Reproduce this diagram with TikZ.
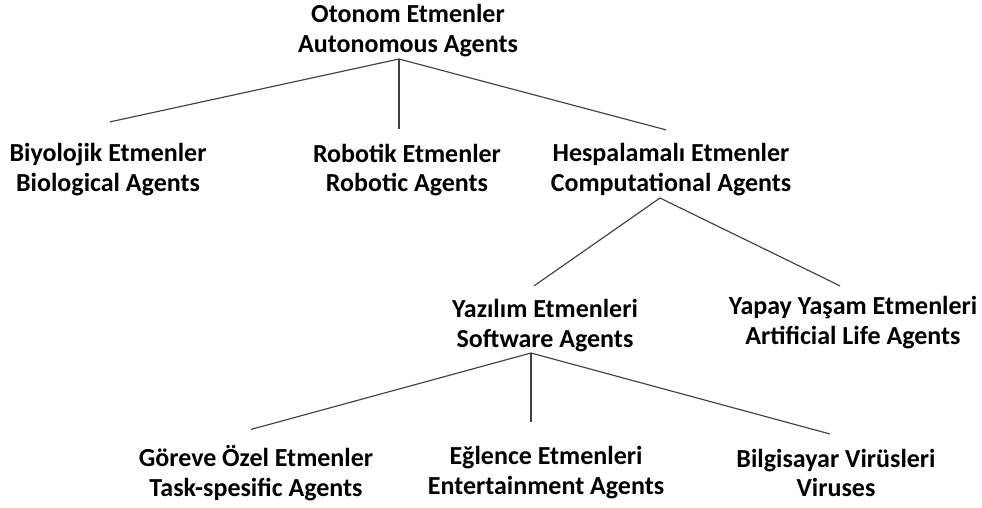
\documentclass[tikz,border=0pt]{standalone}
\usepackage{fontspec}
\setmainfont{Carlito}
\usepackage{tikz}
\tikzset{
  agent/.style = {font=\bfseries\fontsize{14.8pt}{17pt}\selectfont, align=center, inner sep=2pt},
  branch/.style = {draw=black!75, line width=0.65pt}
}

\begin{document}
\begin{tikzpicture}[x=0.02cm, y=-0.02cm]
            \useasboundingbox (0,0) rectangle (982,507);
            \node[agent] (root) at (408,31) {Otonom Etmenler\\Autonomous Agents};
            \node[agent] (bio) at (108,170) {Biyolojik Etmenler\\Biological Agents};
            \node[agent] (robot) at (407,170) {Robotik Etmenler\\Robotic Agents};
            \node[agent] (comp) at (671,170) {Hespalamalı Etmenler\\Computational Agents};
            \node[agent] (soft) at (545,326) {Yazılım Etmenleri\\Software Agents};
            \node[agent] (alife) at (853,323) {Yapay Yaşam Etmenleri\\Artificial Life Agents};
            \node[agent] (task) at (256,473) {Göreve Özel Etmenler\\Task-spesific Agents};
            \node[agent] (fun) at (546,473) {Eğlence Etmenleri\\Entertainment Agents};
            \node[agent] (virus) at (836,473) {Bilgisayar Virüsleri\\Viruses};
            \coordinate (rootfoot) at (399,59);
            \coordinate (compfoot) at (660,198);
            \coordinate (softfoot) at (531,353);
            \draw[branch] (rootfoot) -- ([xshift=0.04cm, yshift=0.36cm]bio.north);
            \draw[branch] (rootfoot) -- ([yshift=0.22cm]robot.north -| rootfoot);
            \draw[branch] (rootfoot) -- ([xshift=-0.1cm, yshift=0.2cm]comp.north);
            \draw[branch] (compfoot) -- ([xshift=-0.22cm, yshift=0.2cm]soft.north);
            \draw[branch] (compfoot) -- ([xshift=-0.26cm, yshift=0.14cm]alife.north);
            \draw[branch] (softfoot) -- ([xshift=-0.1cm, yshift=0.24cm]task.north);
            \draw[branch] (softfoot) -- ([yshift=0.42cm]fun.north -| softfoot);
            \draw[branch] (softfoot) -- ([xshift=-0.12cm, yshift=0.22cm]virus.north);
        \end{tikzpicture}
\end{document}
